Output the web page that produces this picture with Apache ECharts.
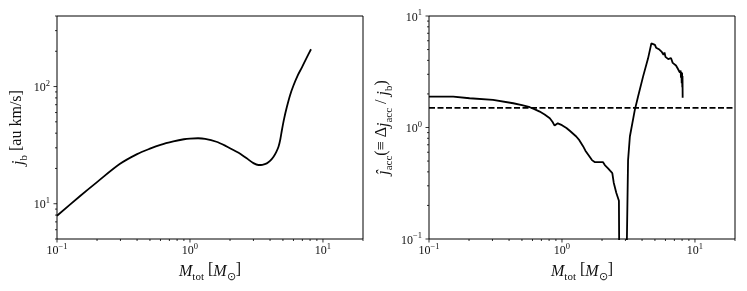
<!DOCTYPE html>
<html>
<head>
<meta charset="utf-8">
<script src="https://cdn.jsdelivr.net/npm/echarts@6/dist/echarts.min.js"></script>
<style>
html,body{margin:0;padding:0;background:#fff;}
#c{width:747px;height:291px;}
</style>
</head>
<body>
<div id="c"></div>
<script>
// ---- data ----
const massLeft = [0.1, 0.15, 0.2, 0.296, 0.4, 0.5, 0.6, 0.75, 0.9, 1.0, 1.15, 1.3, 1.58, 1.85, 2.12, 2.4, 2.67, 3.0, 3.27, 3.5, 3.78, 4.0, 4.25, 4.45, 4.63, 4.78, 4.91, 5.1, 5.35, 5.65, 6.0, 6.45, 6.95, 7.5, 8.13];
const jB = [7.9, 11.7, 15.3, 21.8, 26.5, 29.5, 31.8, 34.0, 35.5, 36, 36.2, 35.8, 33.8, 31.2, 28.7, 26.6, 24.4, 22.2, 21.4, 21.5, 22.1, 23.2, 25.2, 27.6, 30.6, 35.5, 42.4, 53, 66.8, 84, 102, 124, 146, 174, 208];

const massRight = [0.1, 0.152, 0.202, 0.303, 0.43, 0.5, 0.573, 0.62, 0.68, 0.74, 0.81, 0.85, 0.88, 0.93, 1.0, 1.08, 1.15, 1.28, 1.35, 1.44, 1.5, 1.61, 1.68, 1.76, 1.85, 2.03, 2.1, 2.22, 2.3, 2.39, 2.45, 2.56, 2.68, 2.72, 2.99, 3.14, 3.24, 3.53, 3.73, 4.07, 4.44, 4.70, 4.78, 5.0, 5.1, 5.2, 5.4, 5.6, 5.8, 5.9, 6.0, 6.2, 6.3, 6.5, 6.6, 6.8, 7.0, 7.2, 7.4, 7.6, 7.7, 7.8, 7.85, 7.9, 7.95, 8.0, 8.03, 8.06, 8.08];
const jAcc = [1.89, 1.89, 1.83, 1.77, 1.65, 1.59, 1.52, 1.46, 1.39, 1.31, 1.21, 1.12, 1.04, 1.09, 1.05, 0.99, 0.93, 0.83, 0.77, 0.68, 0.62, 0.55, 0.51, 0.49, 0.49, 0.49, 0.46, 0.43, 0.41, 0.39, 0.32, 0.26, 0.22, 0.01, 0.01, 0.51, 0.83, 1.44, 1.89, 2.86, 4.17, 5.68, 5.55, 5.5, 5.2, 5.4, 5.0, 4.8, 4.5, 4.7, 4.3, 4.4, 4.1, 4.0, 4.2, 3.8, 3.7, 3.6, 3.4, 3.3, 3.1, 3.25, 2.8, 3.15, 2.5, 3.1, 2.3, 2.9, 1.85];

const threshold = 1.5;

const xRange = [0.1, 20];
const yLeftRange = [5, 400];
const yRightRange = [0.1, 10];

const xMajor = [0.1, 1, 10];
const xMinor = [0.2, 0.3, 0.4, 0.5, 0.6, 0.7, 0.8, 0.9, 2, 3, 4, 5, 6, 7, 8, 9, 20];
const yLeftMajor = [10, 100];
const yLeftMinor = [5, 6, 7, 8, 9, 20, 30, 40, 50, 60, 70, 80, 90, 200, 300, 400];
const yRightMajor = [0.1, 1, 10];
const yRightMinor = [0.2, 0.3, 0.4, 0.5, 0.6, 0.7, 0.8, 0.9, 2, 3, 4, 5, 6, 7, 8, 9];

const xTitle = '{i|M}{sub|tot} [{i|M}{sub|⊙}]';
const yLeftTitle = '{i|j}{sub|b} [au km/s]';
const yRightTitle = '{i|ĵ}{sub|acc}(≡ Δ{i|j}{sub|acc} / {i|j}{sub|b})';

// ---- styling ----
const FONT = 'Liberation Serif';
const TXT = '#111';

function powLabel(v) {
  const l = Math.log10(v);
  const e = Math.round(l);
  if (Math.abs(l - e) > 1e-6) return '';
  const s = String(e).replace('-', '−');
  return '{b|10}{s|' + s + '}';
}
const labelRich = {
  b: {fontSize: 12, fontFamily: FONT, color: TXT, lineHeight: 15, verticalAlign: 'bottom'},
  s: {fontSize: 8.5, fontFamily: FONT, color: TXT, lineHeight: 15, verticalAlign: 'top'}
};
const nameRich = {
  i: {fontSize: 16, fontFamily: FONT, fontStyle: 'italic', color: TXT, lineHeight: 20, verticalAlign: 'bottom'},
  sub: {fontSize: 11, fontFamily: FONT, color: TXT, lineHeight: 20, verticalAlign: 'bottom', padding: [0, 0, -3, 0]}
};

function xAxisCfg(gi) {
  return {
    type: 'log', logBase: 10, gridIndex: gi, min: xRange[0], max: xRange[1],
    axisLine: {show: false}, axisTick: {show: false}, splitLine: {show: false},
    axisLabel: {formatter: powLabel, rich: labelRich, margin: 3, showMinLabel: true, showMaxLabel: true},
    name: xTitle, nameLocation: 'middle', nameGap: 10,
    nameTextStyle: {fontSize: 16, fontFamily: FONT, color: TXT, rich: nameRich}
  };
}
function yAxisCfg(gi, range, title, gap) {
  return {
    type: 'log', logBase: 10, gridIndex: gi, min: range[0], max: range[1],
    axisLine: {show: false}, axisTick: {show: false}, splitLine: {show: false},
    axisLabel: {formatter: powLabel, rich: labelRich, margin: 7},
    name: title, nameLocation: 'middle', nameGap: gap,
    nameTextStyle: {fontSize: 16, fontFamily: FONT, color: TXT, rich: nameRich}
  };
}

function tickSeries(gi, dim, values, len, other) {
  return {
    type: 'custom', xAxisIndex: gi, yAxisIndex: gi, silent: true, clip: false, z: 5,
    data: values.map(v => dim === 'x' ? [v, other] : [other, v]),
    renderItem: function (params, api) {
      const p = api.coord([api.value(0), api.value(1)]);
      let shape;
      if (dim === 'x') shape = {x1: p[0], y1: p[1], x2: p[0], y2: p[1] + len};
      else shape = {x1: p[0], y1: p[1], x2: p[0] - len, y2: p[1]};
      return {type: 'line', shape: shape, style: {stroke: '#000', lineWidth: 0.8}};
    }
  };
}

const chart = echarts.init(document.getElementById('c'), null, {renderer: 'canvas'});
const option = {
  animation: false,
  backgroundColor: '#fff',
  grid: [
    {left: 57, top: 16, width: 306, height: 223, show: true, borderColor: '#000', borderWidth: 1, backgroundColor: 'transparent'},
    {left: 429, top: 16, width: 306, height: 223, show: true, borderColor: '#000', borderWidth: 1, backgroundColor: 'transparent'}
  ],
  xAxis: [xAxisCfg(0), xAxisCfg(1)],
  yAxis: [yAxisCfg(0, yLeftRange, yLeftTitle, 29), yAxisCfg(1, yRightRange, yRightTitle, 37)],
  series: [
    {
      type: 'line', xAxisIndex: 0, yAxisIndex: 0, showSymbol: false, smooth: 0.3,
      data: massLeft.map((m, i) => [m, jB[i]]),
      lineStyle: {color: '#000', width: 1.8}
    },
    {
      type: 'line', xAxisIndex: 1, yAxisIndex: 1, showSymbol: false, smooth: false,
      data: massRight.map((m, i) => [m, jAcc[i]]),
      lineStyle: {color: '#000', width: 1.8}
    },
    {
      type: 'line', xAxisIndex: 1, yAxisIndex: 1, showSymbol: false,
      data: xRange.map(m => [m, threshold]),
      lineStyle: {color: '#000', width: 1.8, type: [6, 2.5]}
    },
    tickSeries(0, 'x', xMajor, 3.5, yLeftRange[0]),
    tickSeries(0, 'x', xMinor, 2, yLeftRange[0]),
    tickSeries(0, 'y', yLeftMajor, 3.5, xRange[0]),
    tickSeries(0, 'y', yLeftMinor, 2, xRange[0]),
    tickSeries(1, 'x', xMajor, 3.5, yRightRange[0]),
    tickSeries(1, 'x', xMinor, 2, yRightRange[0]),
    tickSeries(1, 'y', yRightMajor, 3.5, xRange[0]),
    tickSeries(1, 'y', yRightMinor, 2, xRange[0])
  ]
};
chart.setOption(option);
</script>
</body>
</html>
